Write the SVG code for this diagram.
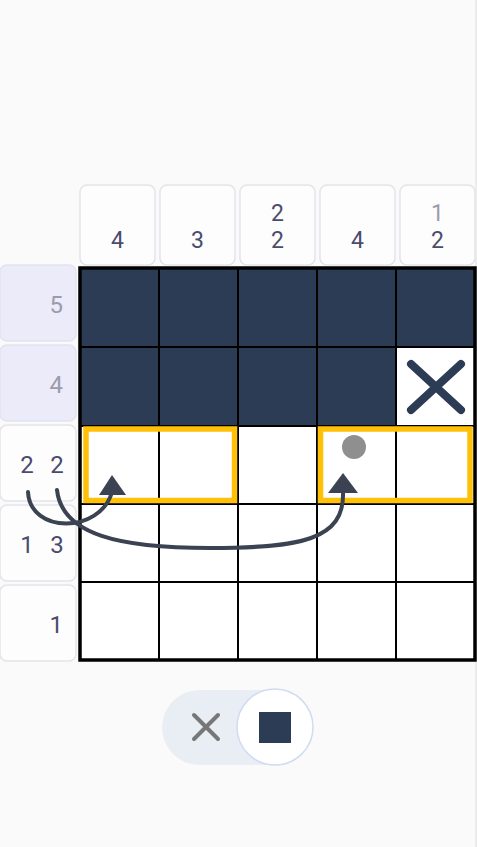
<svg xmlns="http://www.w3.org/2000/svg" width="477" height="847" viewBox="0 0 477 847">
<style>
.clue{fill:#fdfdfe;stroke:#e3e3ea;stroke-width:1.5}
.hl{fill:#ebebfa;stroke:#e3e3ef;stroke-width:1.5}
.t{font-family:Roboto,"Liberation Sans",sans-serif;font-size:24px;fill:#4b4b6d}
.tt{font-size:23px}
.tl{fill:#9b9bad}
.dark{fill:#2d3c55}
.cell{fill:#ffffff}
.gl{stroke:#000;stroke-width:2}
.sel{fill:none;stroke:#ffc107;stroke-width:5.5}
.arc{fill:none;stroke:#3b4352;stroke-width:4;stroke-linecap:round}
.head{fill:#3b4352}
</style>
<rect width="477" height="847" fill="#fafafa"/>
<rect x="475" y="0" width="2" height="847" fill="#ececec"/>

<g id="top-clues">
<rect class="clue" x="80" y="185" width="75" height="80" rx="7"/>
<rect class="clue" x="160" y="185" width="75" height="80" rx="7"/>
<rect class="clue" x="240" y="185" width="75" height="80" rx="7"/>
<rect class="clue" x="320" y="185" width="75" height="80" rx="7"/>
<rect class="clue" x="400" y="185" width="75" height="80" rx="7"/>
<text class="t tt" x="117.5" y="248" text-anchor="middle">4</text>
<text class="t tt" x="197.5" y="248" text-anchor="middle">3</text>
<text class="t tt" x="277.5" y="221" text-anchor="middle">2</text>
<text class="t tt" x="277.5" y="248" text-anchor="middle">2</text>
<text class="t tt" x="357.5" y="248" text-anchor="middle">4</text>
<text class="t tt tl" x="437.5" y="221" text-anchor="middle">1</text>
<text class="t tt" x="437.5" y="248" text-anchor="middle">2</text>
</g>

<g id="left-clues">
<rect class="hl" x="0" y="265" width="76" height="76" rx="7"/>
<rect class="hl" x="0" y="345" width="76" height="76" rx="7"/>
<rect class="clue" x="0" y="425" width="76" height="76" rx="7"/>
<rect class="clue" x="0" y="505" width="76" height="76" rx="7"/>
<rect class="clue" x="0" y="585" width="76" height="76" rx="7"/>
<text class="t tl" x="63" y="313" text-anchor="end">5</text>
<text class="t tl" x="63" y="393" text-anchor="end">4</text>
<text class="t" x="27" y="473" text-anchor="middle">2</text>
<text class="t" x="57" y="473" text-anchor="middle">2</text>
<text class="t" x="27" y="553" text-anchor="middle">1</text>
<text class="t" x="57" y="553" text-anchor="middle">3</text>
<text class="t" x="63" y="633" text-anchor="end">1</text>
</g>

<g id="grid">
<rect class="cell" x="80" y="268" width="395" height="392"/>
<rect class="dark" x="80" y="268" width="395" height="79"/>
<rect class="dark" x="80" y="347" width="316" height="79"/>
<line class="gl" x1="159" y1="268" x2="159" y2="660"/>
<line class="gl" x1="238" y1="268" x2="238" y2="660"/>
<line class="gl" x1="317" y1="268" x2="317" y2="660"/>
<line class="gl" x1="396" y1="268" x2="396" y2="660"/>
<line class="gl" x1="80" y1="347" x2="475" y2="347"/>
<line class="gl" x1="80" y1="426" x2="475" y2="426"/>
<line class="gl" x1="80" y1="504" x2="475" y2="504"/>
<line class="gl" x1="80" y1="582" x2="475" y2="582"/>
<rect x="80" y="268" width="395" height="392" fill="none" stroke="#000" stroke-width="3.5"/>
<path d="M411,364 L461,410 M461,364 L411,410" stroke="#2d3c55" stroke-width="8" stroke-linecap="round" fill="none"/>
<circle cx="354" cy="447" r="12" fill="#8f8f8f"/>
</g>

<g id="selections">
<rect class="sel" x="86" y="429" width="148.5" height="71.5"/>
<rect class="sel" x="320.5" y="429" width="149.5" height="71.5"/>
</g>

<g id="connectors">
<path class="arc" d="M28,492 C30,534 100,534 112,492"/>
<polygon class="head" points="112,475 99,495 126,495"/>
<path class="arc" d="M57,490 C62,535 120,548 210,548 C300,548 345,540 343,492"/>
<polygon class="head" points="343,473 328,493 358,493"/>
</g>

<g id="toggle">
<rect x="162" y="690" width="151" height="75" rx="37.5" fill="#e9eef5"/>
<path d="M194,715 L218,739 M218,715 L194,739" stroke="#777777" stroke-width="4" stroke-linecap="round" fill="none"/>
<circle cx="275" cy="727" r="38" fill="#ffffff" stroke="#cfdcf2" stroke-width="1.5"/>
<rect x="259" y="712" width="32" height="31" fill="#2d3c55"/>
</g>
</svg>
